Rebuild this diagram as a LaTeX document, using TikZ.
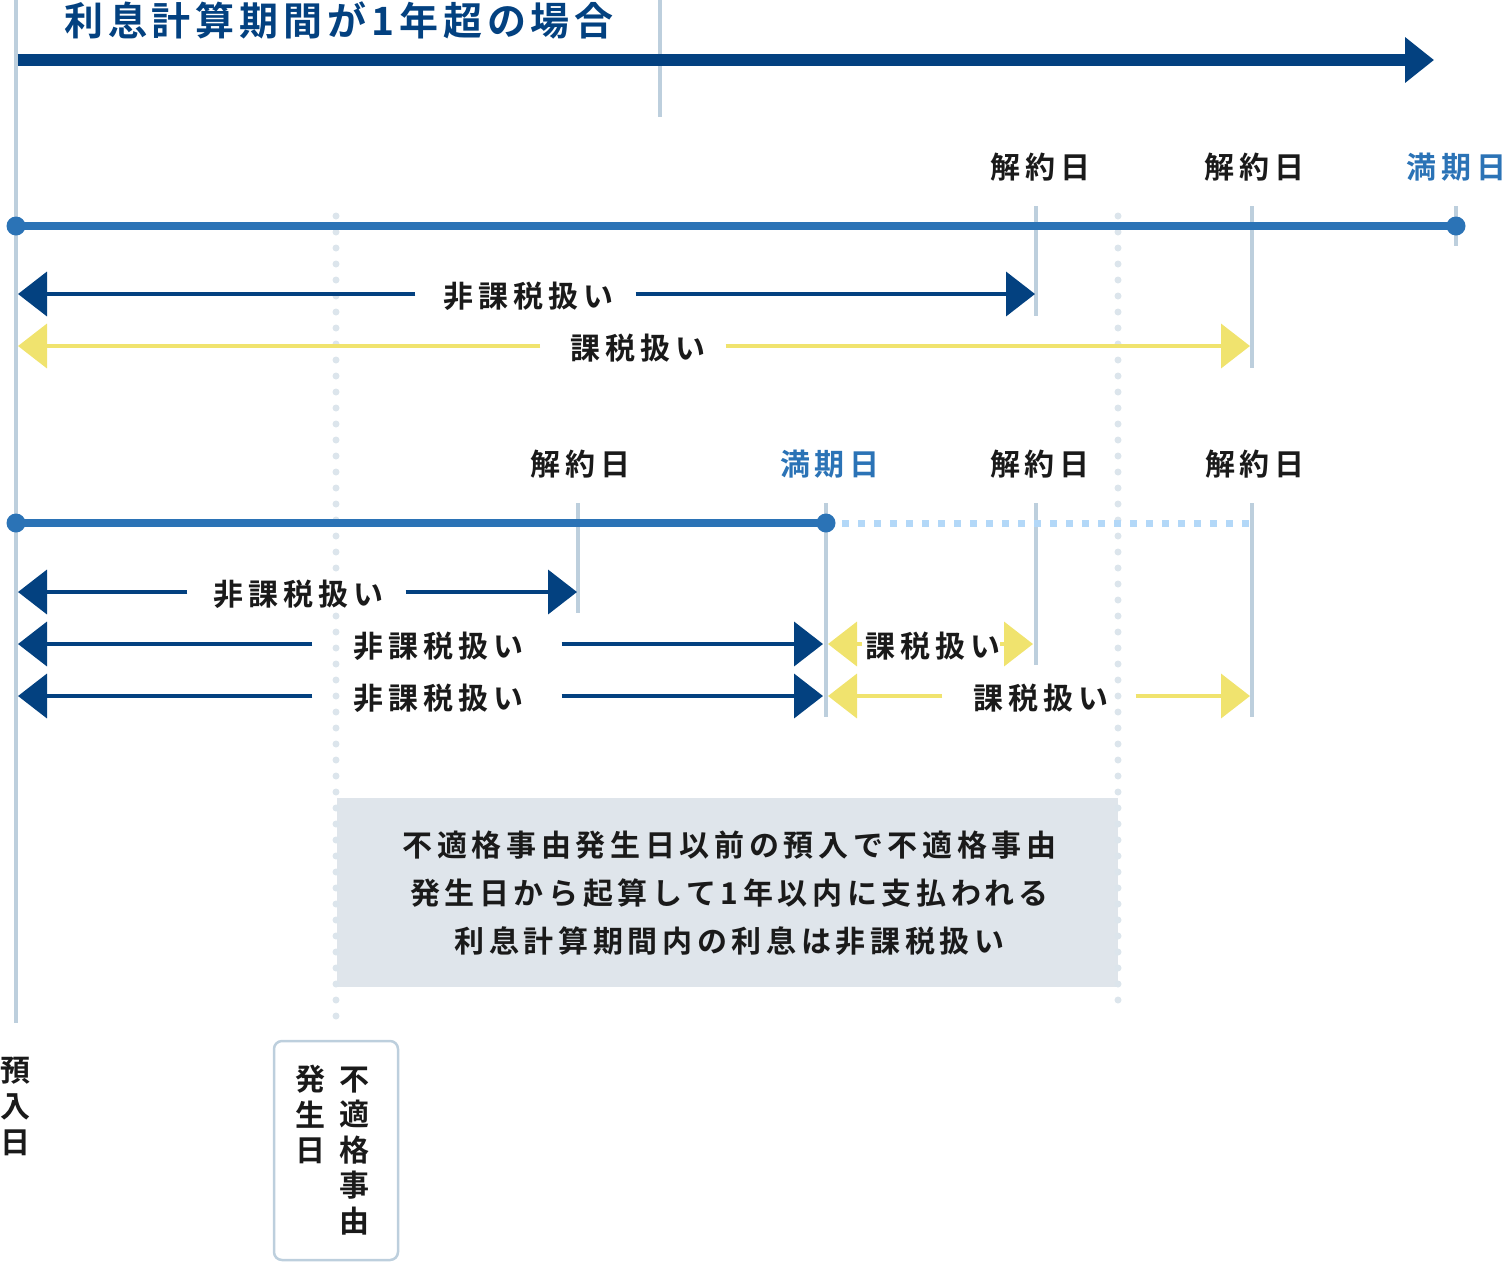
\documentclass[tikz,border=0pt]{standalone}
\usepackage{fontspec}
\newfontfamily\jpl{Noto Sans CJK JP Bold}[LetterSpace=16.7]
\newfontfamily\jpn{Noto Sans CJK JP Bold}[LetterSpace=15.5]
\newfontfamily\jpt{Noto Sans CJK JP Bold}[LetterSpace=12.5]
\usetikzlibrary{arrows.meta,calc}
\definecolor{navy}{HTML}{034180}
\definecolor{tblue}{HTML}{2B73B6}
\definecolor{lblue}{HTML}{B3D8F8}
\definecolor{yel}{HTML}{F0E36E}
\definecolor{vgray}{HTML}{BDCFDD}
\definecolor{dotc}{HTML}{DCE5EC}
\definecolor{boxc}{HTML}{DFE5EB}
\definecolor{txt}{HTML}{1A1A1A}
\tikzset{
  vline/.style={draw=vgray, line width=3.2pt},
  dotline/.style={draw=dotc, line width=7pt, line cap=round, dash pattern=on 0pt off 16pt},
  tl/.style={draw=tblue, line width=7.5pt},
  sqline/.style={draw=lblue, line width=7pt, dash pattern=on 7pt off 9pt},
  tdot/.style={circle, fill=tblue, inner sep=0pt, minimum size=19pt},
  narr/.style={draw=navy, line width=4pt, -{Triangle[length=29pt,width=44pt]}},
  yarr/.style={draw=yel, line width=4pt, -{Triangle[length=29pt,width=44pt]}},
  lbl/.style={font=\jpl\fontsize{30pt}{36pt}\selectfont, text=txt, inner sep=0pt, anchor=base},
  wlbl/.style={lbl, fill=white, inner ysep=1pt},
  vtext/.style={font=\jpl\fontsize{30pt}{35.5pt}\selectfont, text=txt, inner sep=0pt, align=center},
}
\begin{document}
\begin{tikzpicture}[x=1pt,y=-1pt]
\useasboundingbox (0,0) rectangle (1506,1262);
% light vertical guide lines
\draw[vline] (16,0) -- (16,1023);
\draw[vline] (660,0) -- (660,117);
\draw[vline] (1036,206) -- (1036,316);
\draw[vline] (1252,206) -- (1252,368);
\draw[vline] (1456,206) -- (1456,246);
\draw[vline] (578,503) -- (578,613);
\draw[vline] (826,503) -- (826,717);
\draw[vline] (1036,503) -- (1036,665);
\draw[vline] (1252,503) -- (1252,717);
% grey note box
\node[fill=boxc, minimum width=781pt, minimum height=189pt, inner sep=0pt] (box) at (727.5,892.5) {};
% dotted verticals
\draw[dotline] (336,216) -- (336,1032);
\draw[dotline] (1118,216) -- (1118,1016);
% title and top bar
\node[lbl, font=\jpt\fontsize{39pt}{45pt}\selectfont, text=navy] (title) at (339,35.5) {利息計算期間が1年超の場合};
\coordinate (ts) at (17.5,60);
\coordinate (te) at (1434,60);
\draw[navy, line width=12pt, -{Triangle[length=29pt,width=44pt]}] (ts) -- (te);
% timeline 1
\node[tdot] (d1a) at (16,226) {};
\node[tdot] (d1b) at (1456,226) {};
\draw[tl] (d1a.center) -- (d1b.center);
\node[lbl] (c1) at (1040.5,178) {解約日};
\node[lbl] (c2) at (1254.5,178) {解約日};
\node[lbl, text=tblue] (m1) at (1456.5,178) {満期日\hspace{-5pt}};
% row 1 arrows
\coordinate (n1l) at (18,294); \coordinate (n1r) at (1035,294);
\node[wlbl] (L1) at (528.5,307.5) {非課税扱い};
\draw[narr] ($(L1.west|-n1l)+(-28,0)$) -- (n1l);
\draw[narr] ($(L1.east|-n1r)+(22,0)$) -- (n1r);
\coordinate (y1l) at (18,346); \coordinate (y1r) at (1250,346);
\node[wlbl] (K1) at (638,359.5) {課税扱い};
\draw[yarr] ($(K1.west|-y1l)+(-30,0)$) -- (y1l);
\draw[yarr] ($(K1.east|-y1r)+(20,0)$) -- (y1r);
% timeline 2
\node[lbl] (c3) at (580.5,475.5) {解約日};
\node[lbl, text=tblue] (m2) at (830,475.5) {満期日};
\node[lbl] (c4) at (1040,475.5) {解約日};
\node[lbl] (c5) at (1255,475.5) {解約日};
\node[tdot] (d2a) at (16,523) {};
\node[tdot] (d2b) at (826,523) {};
\coordinate (d2e) at (1250,523);
\draw[tl] (d2a.center) -- (d2b.center);
\draw[sqline] ($(d2b.center)+(16,0)$) -- (d2e);
% row 2 arrows
\coordinate (n2l) at (18,592); \coordinate (n2r) at (577,592);
\node[wlbl] (L2) at (298.5,605.5) {非課税扱い};
\draw[narr] ($(L2.west|-n2l)+(-26,0)$) -- (n2l);
\draw[narr] ($(L2.east|-n2r)+(22,0)$) -- (n2r);
\coordinate (n3l) at (18,644); \coordinate (n3r) at (823,644);
\node[wlbl] (L3) at (438.5,657.5) {非課税扱い};
\draw[narr] ($(L3.west|-n3l)+(-41,0)$) -- (n3l);
\draw[narr] ($(L3.east|-n3r)+(38,0)$) -- (n3r);
\coordinate (y3l) at (828,644); \coordinate (y3r) at (1033,644);
\node[wlbl] (K3) at (933.5,657.5) {課税扱い};
\draw[yarr] ($(K3.west|-y3l)+(-4,0)$) -- (y3l);
\draw[yarr] ($(K3.east|-y3r)+(-1,0)$) -- (y3r);
\coordinate (n4l) at (18,696); \coordinate (n4r) at (823,696);
\node[wlbl] (L4) at (438.5,709.5) {非課税扱い};
\draw[narr] ($(L4.west|-n4l)+(-41,0)$) -- (n4l);
\draw[narr] ($(L4.east|-n4r)+(38,0)$) -- (n4r);
\coordinate (y4l) at (828,696); \coordinate (y4r) at (1250,696);
\node[wlbl] (K4) at (1041,709.5) {課税扱い};
\draw[yarr] ($(K4.west|-y4l)+(-31,0)$) -- (y4l);
\draw[yarr] ($(K4.east|-y4r)+(27,0)$) -- (y4r);
% note text
\node[font=\jpn\fontsize{30pt}{48pt}\selectfont, text=txt, inner sep=0pt, align=center] (note) at (729.5,893)
  {不適格事由発生日以前の預入で不適格事由\\発生日から起算して1年以内に支払われる\\利息計算期間内の利息は非課税扱い};
% bottom labels
\node[vtext, font=\jpl\fontsize{30pt}{36pt}\selectfont] (dep) at (15,1106) {預\\入\\日};
\node[draw=vgray, line width=2.5pt, rounded corners=8pt, minimum width=124pt, minimum height=219pt, inner sep=0pt] (fbox) at (336,1150.5) {};
\node[vtext] (ev1) at (354.5,1151) {不\\適\\格\\事\\由};
\node[vtext] (ev2) at (310.5,1114.5) {発\\生\\日};
\end{tikzpicture}
\end{document}
